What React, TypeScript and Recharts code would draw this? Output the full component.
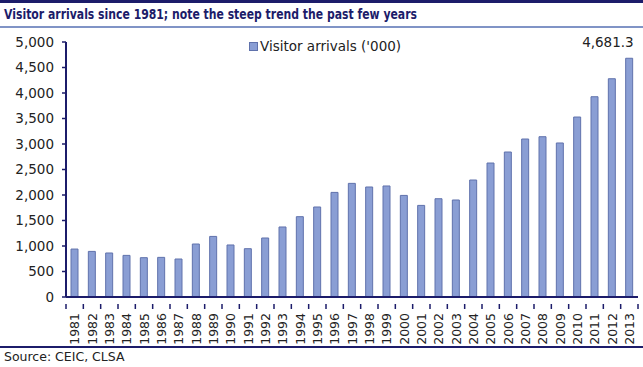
import { BarChart, Bar, XAxis, YAxis, LabelList } from 'recharts';

const years = [
  '1981', '1982', '1983', '1984', '1985', '1986', '1987', '1988', '1989', '1990', '1991',
  '1992', '1993', '1994', '1995', '1996', '1997', '1998', '1999', '2000', '2001', '2002',
  '2003', '2004', '2005', '2006', '2007', '2008', '2009', '2010', '2011', '2012', '2013',
];

const arrivals = [
  940, 894, 863, 816, 771, 777, 745, 1039, 1188, 1020, 947,
  1157, 1373, 1575, 1765, 2051, 2228, 2157, 2177, 1992, 1796, 1927,
  1902, 2294, 2627, 2843, 3098, 3143, 3020, 3529, 3927, 4280, 4681.3,
];

const yTicks = [0, 500, 1000, 1500, 2000, 2500, 3000, 3500, 4000, 4500, 5000];

const seriesName = "Visitor arrivals ('000)";

const data = years.map((year, i) => ({ year, value: arrivals[i] }));

const NAVY = '#1c1c6a';
const BAR_FILL = '#8a9ed4';
const BAR_STROKE = '#6072ac';
const FONT = '"DejaVu Sans", Verdana, sans-serif';

const band = 572 / years.length;

const YearTick = (props: any) => {
  const { x, y, payload } = props;
  return (
    <g>
      <line x1={x - band / 2} y1={y - 1} x2={x - band / 2} y2={y + 4} stroke={NAVY} strokeWidth={1.5} />
      {payload.index === years.length - 1 && (
        <line x1={x + band / 2} y1={y - 1} x2={x + band / 2} y2={y + 4} stroke={NAVY} strokeWidth={1.5} />
      )}
      <text
        x={x}
        y={y + 8}
        transform={`rotate(-90, ${x}, ${y + 8})`}
        textAnchor="end"
        dominantBaseline="central"
        fontSize={12.5}
        fontFamily={FONT}
        fill="#222"
      >
        {payload.value}
      </text>
    </g>
  );
};

const LastLabel = (props: any) => {
  const { x, y, width, index, value } = props;
  if (index !== arrivals.length - 1) return null;
  return (
    <text x={x + width + 1} y={y - 11} textAnchor="end" fontSize={13.5} fontFamily={FONT} fill="#222">
      {Number(value).toLocaleString('en-US', { minimumFractionDigits: 1 })}
    </text>
  );
};

export default function App() {
  return (
    <div style={{ position: 'absolute', left: 0, top: 0, width: 643, height: 367, background: '#fff' }}>
      <svg width={643} height={367} style={{ position: 'absolute', left: 0, top: 0 }}>
        <rect x={0} y={0} width={643} height={3} fill={NAVY} />
        <text x={4} y={19} fontSize={13.5} fontWeight="bold" fontFamily={FONT} fill={NAVY} textLength={413} lengthAdjust="spacingAndGlyphs">
          Visitor arrivals since 1981; note the steep trend the past few years
        </text>
        <rect x={0} y={26} width={643} height={2} fill="#8094c6" />
        <rect x={0} y={346} width={643} height={2} fill={NAVY} />
        <text x={4} y={361} fontSize={12.5} fontFamily={FONT} fill="#222">
          Source: CEIC, CLSA
        </text>
      </svg>
      <div style={{ position: 'absolute', left: 0, top: 0 }}>
        <BarChart width={643} height={367} data={data} margin={{ top: 42, right: 5, bottom: 0, left: 0 }}>
          <XAxis
            dataKey="year"
            height={70}
            interval={0}
            tickLine={false}
            axisLine={{ stroke: NAVY, strokeWidth: 2 }}
            tick={<YearTick />}
          />
          <YAxis
            width={66}
            domain={[0, 5000]}
            ticks={yTicks}
            interval={0}
            tickSize={4}
            tickMargin={8}
            axisLine={{ stroke: NAVY, strokeWidth: 2 }}
            tickLine={{ stroke: NAVY, strokeWidth: 1.5 }}
            tickFormatter={(v) => Number(v).toLocaleString('en-US')}
            tick={{ fontSize: 13.5, fill: '#222', fontFamily: FONT }}
          />
          <Bar dataKey="value" name={seriesName} barSize={7} fill={BAR_FILL} stroke={BAR_STROKE} strokeWidth={1} isAnimationActive={false}>
            <LabelList dataKey="value" content={<LastLabel />} />
          </Bar>
        </BarChart>
      </div>
      <div
        style={{
          position: 'absolute',
          top: 38,
          left: 249,
          display: 'flex',
          alignItems: 'center',
          fontFamily: FONT,
          fontSize: 13.5,
          color: '#222',
          whiteSpace: 'nowrap',
        }}
      >
        <span
          style={{
            display: 'inline-block',
            width: 7,
            height: 7,
            background: BAR_FILL,
            border: `1px solid ${BAR_STROKE}`,
            marginRight: 2,
          }}
        />
        <span>{seriesName}</span>
      </div>
    </div>
  );
}
